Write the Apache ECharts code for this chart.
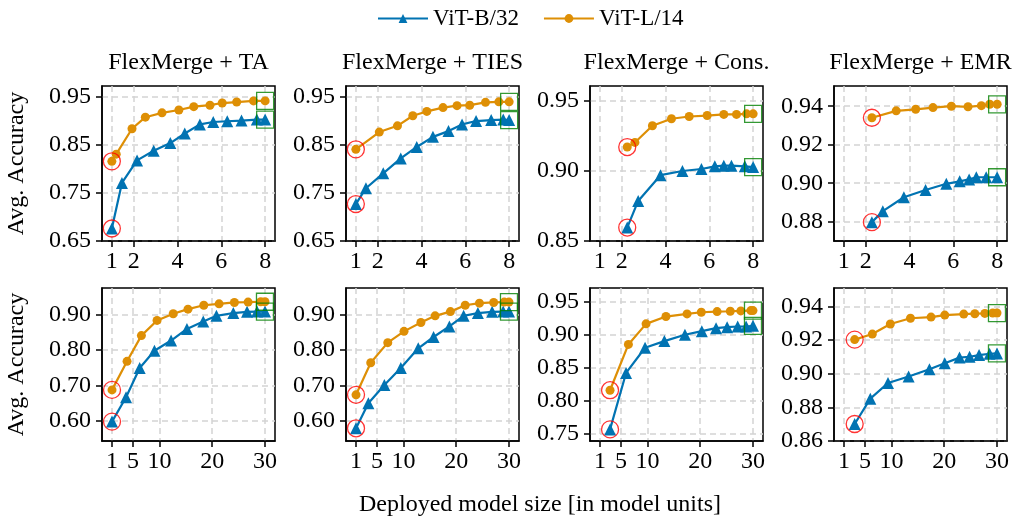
<!DOCTYPE html>
<html>
<head>
<meta charset="utf-8">
<script src="https://cdn.jsdelivr.net/npm/echarts@6/dist/echarts.min.js"></script>
<style>html,body{margin:0;padding:0;background:#fff}#c{width:1013px;height:518px}</style>
</head>
<body>
<div id="c"></div>
<script>
// ---------- data ----------
const seriesNames = ['ViT-B/32', 'ViT-L/14'];
const panelTitles = ['FlexMerge + TA', 'FlexMerge + TIES', 'FlexMerge + Cons.', 'FlexMerge + EMR',
                     'FlexMerge + TA', 'FlexMerge + TIES', 'FlexMerge + Cons.', 'FlexMerge + EMR'];
const yLabel = 'Avg. Accuracy';
const xLabel = 'Deployed model size [in model units]';
const xTicksTop = [1, 2, 4, 6, 8];
const xTicksBottom = [1, 5, 10, 20, 30];
const yTicks = [
  [0.65, 0.75, 0.85, 0.95],
  [0.65, 0.75, 0.85, 0.95],
  [0.85, 0.90, 0.95],
  [0.88, 0.90, 0.92, 0.94],
  [0.60, 0.70, 0.80, 0.90],
  [0.60, 0.70, 0.80, 0.90],
  [0.75, 0.80, 0.85, 0.90, 0.95],
  [0.86, 0.88, 0.90, 0.92, 0.94]
];
const yRanges = [
  [0.65, 0.973], [0.65, 0.973], [0.85, 0.9607], [0.87, 0.9505],
  [0.542, 0.976], [0.542, 0.976], [0.7395, 0.97], [0.86, 0.951]
];
const xRangeTop = [0.55, 8.45];
const xRangeBottom = [-0.9, 31.9];

// top row
const taTopBx = [1, 1.46, 2.15, 2.91, 3.67, 4.33, 5.02, 5.63, 6.27, 6.92, 7.62, 8];
const taTopBy = [0.676, 0.771, 0.818, 0.838, 0.854, 0.874, 0.893, 0.898, 0.8995, 0.901, 0.903, 0.903];
const taTopLx = [1, 1.2, 1.92, 2.53, 3.29, 4.06, 4.74, 5.48, 6.04, 6.70, 7.47, 8];
const taTopLy = [0.816, 0.831, 0.884, 0.908, 0.917, 0.923, 0.930, 0.933, 0.9375, 0.9396, 0.942, 0.942];

const tiesTopBx = [1, 1.46, 2.25, 3.05, 3.78, 4.52, 5.23, 5.85, 6.49, 7.18, 7.73, 8];
const tiesTopBy = [0.727, 0.760, 0.791, 0.822, 0.846, 0.867, 0.879, 0.893, 0.900, 0.902, 0.903, 0.902];
const tiesTopLx = [1, 2.07, 2.9, 3.6, 4.24, 4.98, 5.62, 6.2, 6.92, 7.53, 8];
const tiesTopLy = [0.841, 0.877, 0.890, 0.911, 0.920, 0.928, 0.932, 0.933, 0.939, 0.940, 0.940];

const consTopBx = [2.25, 2.75, 3.77, 4.77, 5.64, 6.25, 6.66, 7.01, 7.62, 8];
const consTopBy = [0.8596, 0.8786, 0.897, 0.900, 0.9014, 0.9033, 0.9038, 0.9038, 0.9033, 0.9028];
const consTopLx = [2.25, 2.6, 3.4, 4.27, 5.08, 5.9, 6.66, 7.24, 7.7, 8];
const consTopLy = [0.9171, 0.9204, 0.9323, 0.9373, 0.9389, 0.9396, 0.9404, 0.9404, 0.9408, 0.9408];

const emrTopBx = [2.28, 2.78, 3.74, 4.73, 5.68, 6.29, 6.72, 7.05, 7.5, 8];
const emrTopBy = [0.8798, 0.8855, 0.8927, 0.8965, 0.8997, 0.901, 0.902, 0.9031, 0.9031, 0.9031];
const emrTopLx = [2.28, 3.39, 4.28, 5.07, 5.91, 6.67, 7.28, 7.66, 8];
const emrTopLy = [0.934, 0.9376, 0.9384, 0.9393, 0.940, 0.9397, 0.9403, 0.941, 0.941];

// bottom row
const taBotBx = [1, 3.66, 6.25, 9.04, 12.2, 15.2, 18.3, 20.8, 24.0, 26.6, 28.5, 30];
const taBotBy = [0.597, 0.666, 0.749, 0.798, 0.827, 0.860, 0.881, 0.897, 0.905, 0.9085, 0.909, 0.909];
const taBotLx = [1, 3.85, 6.57, 9.54, 12.6, 15.4, 18.4, 21.3, 24.2, 26.8, 29.2, 30];
const taBotLy = [0.687, 0.768, 0.841, 0.884, 0.903, 0.916, 0.927, 0.931, 0.935, 0.936, 0.937, 0.937];

const tiesBotBx = [1, 3.34, 6.38, 9.49, 12.8, 15.7, 18.7, 21.4, 24.1, 26.8, 28.9, 30];
const tiesBotBy = [0.578, 0.649, 0.701, 0.749, 0.805, 0.837, 0.867, 0.897, 0.905, 0.9085, 0.909, 0.909];
const tiesBotLx = [1, 3.79, 7.02, 10.1, 13.3, 16.0, 18.9, 21.7, 24.4, 27.1, 29.1, 30];
const tiesBotLy = [0.673, 0.764, 0.821, 0.853, 0.878, 0.897, 0.909, 0.927, 0.933, 0.935, 0.936, 0.936];

const consBotBx = [2.9, 5.94, 9.54, 13.2, 17.1, 20.3, 23.0, 25.1, 27.1, 28.7, 30];
const consBotBy = [0.757, 0.842, 0.880, 0.890, 0.8995, 0.905, 0.9095, 0.911, 0.912, 0.912, 0.913];
const consBotLx = [2.9, 6.38, 9.73, 13.5, 17.5, 20.2, 23.2, 25.7, 27.7, 29.6, 30];
const consBotLy = [0.816, 0.885, 0.916, 0.927, 0.931, 0.9335, 0.9345, 0.935, 0.9355, 0.936, 0.936];

const emrBotBx = [3.02, 5.99, 9.34, 13.25, 17.2, 20.1, 22.9, 24.8, 26.6, 28.6, 30];
const emrBotBy = [0.8701, 0.8852, 0.8945, 0.8984, 0.9027, 0.9062, 0.9096, 0.9101, 0.9111, 0.9119, 0.9121];
const emrBotLx = [3.02, 6.37, 9.78, 13.6, 17.5, 20.1, 23.7, 25.8, 27.7, 29.2, 30];
const emrBotLy = [0.9203, 0.9236, 0.9296, 0.933, 0.9337, 0.9349, 0.9355, 0.9357, 0.9359, 0.9361, 0.9361];

const panels = [
  [taTopBx, taTopBy, taTopLx, taTopLy],
  [tiesTopBx, tiesTopBy, tiesTopLx, tiesTopLy],
  [consTopBx, consTopBy, consTopLx, consTopLy],
  [emrTopBx, emrTopBy, emrTopLx, emrTopLy],
  [taBotBx, taBotBy, taBotLx, taBotLy],
  [tiesBotBx, tiesBotBy, tiesBotLx, tiesBotLy],
  [consBotBx, consBotBy, consBotLx, consBotLy],
  [emrBotBx, emrBotBy, emrBotLx, emrBotLy]
];

// ---------- styling / layout ----------
const FONT = '"Liberation Serif", "Times New Roman", serif';
const FS = 24;
const BLUE = '#0173b2';
const ORANGE = '#de8f05';
const gridLefts = [102, 346, 590, 834];
const gridW = 173;
const rowTops = [86, 288];
const rowHeights = [155, 153];

const zip = (xs, ys) => xs.map((x, i) => [x, ys[i]]);

const grids = [], xAxes = [], yAxes = [], series = [], graphics = [];
for (let p = 0; p < 8; p++) {
  const row = p < 4 ? 0 : 1, col = p % 4;
  grids.push({
    left: gridLefts[col], top: rowTops[row], width: gridW, height: rowHeights[row],
    show: true, borderColor: '#000', borderWidth: 1.5, backgroundColor: 'transparent'
  });
  const xt = row === 0 ? xTicksTop : xTicksBottom;
  const xr = row === 0 ? xRangeTop : xRangeBottom;
  xAxes.push({
    type: 'value', gridIndex: p, min: xr[0], max: xr[1],
    axisLine: {show: true, onZero: false, lineStyle: {color: '#000', width: 1.5}},
    axisTick: {show: true, inside: false, length: 6, lineStyle: {color: '#000', width: 1.5}, customValues: xt},
    axisLabel: {show: true, customValues: xt, margin: 9, color: '#000', fontFamily: FONT, fontSize: FS,
                formatter: v => String(v)},
    splitLine: {show: true, lineStyle: {color: '#d3d3d3', type: [6, 4], width: 1.5}}
  });
  const yt = yTicks[p];
  const yax = {
    type: 'value', gridIndex: p, min: yRanges[p][0], max: yRanges[p][1],
    axisLine: {show: true, onZero: false, lineStyle: {color: '#000', width: 1.5}},
    axisTick: {show: true, inside: false, length: 6, lineStyle: {color: '#000', width: 1.5}, customValues: yt},
    axisLabel: {show: true, customValues: yt, margin: 11, color: '#000', fontFamily: FONT, fontSize: FS,
                formatter: v => v.toFixed(2)},
    splitLine: {show: true, lineStyle: {color: '#d3d3d3', type: [6, 4], width: 1.5}}
  };
  if (col === 0) {
    yax.name = yLabel;
    yax.nameLocation = 'middle';
    yax.nameGap = 73;
    yax.nameTextStyle = {color: '#000', fontFamily: FONT, fontSize: FS};
  }
  yAxes.push(yax);

  const [bx, by, lx, ly] = panels[p];
  const bData = zip(bx, by), lData = zip(lx, ly);
  series.push({
    name: seriesNames[0], type: 'line', xAxisIndex: p, yAxisIndex: p, data: bData,
    symbol: 'triangle', symbolSize: 12, showAllSymbol: true,
    lineStyle: {color: BLUE, width: 2.2}, itemStyle: {color: BLUE}, z: 3
  });
  series.push({
    name: seriesNames[1], type: 'line', xAxisIndex: p, yAxisIndex: p, data: lData,
    symbol: 'circle', symbolSize: 9, showAllSymbol: true,
    lineStyle: {color: ORANGE, width: 2.2}, itemStyle: {color: ORANGE}, z: 3
  });
  series.push({
    type: 'scatter', xAxisIndex: p, yAxisIndex: p,
    data: [bData[0], lData[0]], symbol: 'circle', symbolSize: 17,
    itemStyle: {color: 'transparent', borderColor: '#ff0000', borderWidth: 1.3}, z: 4, silent: true
  });
  series.push({
    type: 'scatter', xAxisIndex: p, yAxisIndex: p,
    data: [bData[bData.length - 1], lData[lData.length - 1]], symbol: 'rect', symbolSize: 17,
    itemStyle: {color: 'transparent', borderColor: '#008000', borderWidth: 1.3}, z: 4, silent: true
  });

  if (row === 0) {
    graphics.push({
      type: 'text', x: gridLefts[col] + gridW / 2, y: 63,
      style: {text: panelTitles[p], fontFamily: FONT, fontSize: FS, fill: '#000',
              textAlign: 'center', textVerticalAlign: 'middle'}
    });
  }
}
graphics.push({
  type: 'text', x: 540, y: 505,
  style: {text: xLabel, fontFamily: FONT, fontSize: FS, fill: '#000', textAlign: 'center', textVerticalAlign: 'middle'}
});

const chart = echarts.init(document.getElementById('c'));
chart.setOption({
  animation: false,
  backgroundColor: '#fff',
  legend: {
    data: seriesNames, top: 2, left: 372, itemWidth: 50, itemHeight: 11, itemGap: 24,
    textStyle: {fontFamily: FONT, fontSize: 23, color: '#000'}
  },
  grid: grids, xAxis: xAxes, yAxis: yAxes, series: series, graphic: graphics
});
</script>
</body>
</html>
